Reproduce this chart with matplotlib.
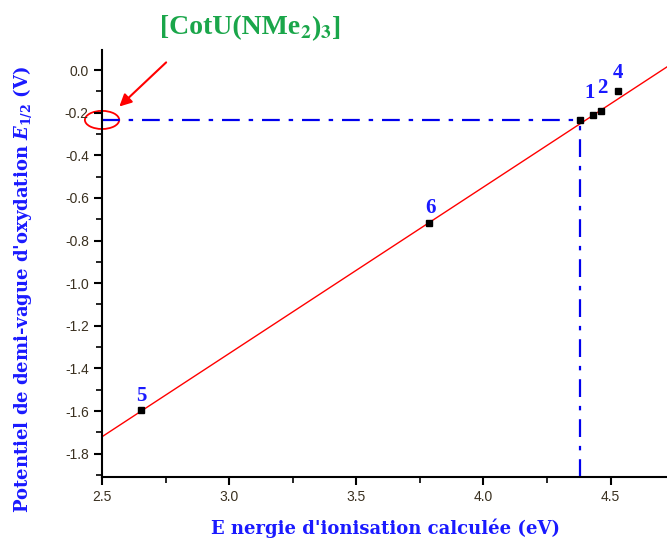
import numpy as np
import matplotlib
matplotlib.use('Agg')
import matplotlib.pyplot as plt
from matplotlib.patches import Ellipse
from matplotlib.ticker import MultipleLocator, FormatStrFormatter

plt.rcParams['mathtext.fontset'] = 'custom'
plt.rcParams['mathtext.rm'] = 'DejaVu Serif:bold'
plt.rcParams['mathtext.it'] = 'DejaVu Serif:italic:bold'
plt.rcParams['mathtext.bf'] = 'DejaVu Serif:bold'

# complexes: label, calculated IE (eV), E1/2 (V)
labels = ['5', '6', '1', '', '2', '4']
ie = [2.654, 3.787, 4.378, 4.433, 4.461, 4.53]
e12 = [-1.594, -0.717, -0.234, -0.211, -0.192, -0.097]
label_pos = [(2.655, -1.53), (3.79, -0.645), (4.417, -0.108), (0, 0), (4.468, -0.084), (4.531, -0.014)]

# linear fit
slope, intercept = 0.781, -3.673
fit_x = np.array([2.5, 4.73])

# reference point [CotU(NMe2)3]
ref_x, ref_y = 4.38, -0.234

f = plt.figure(figsize=(6.67, 5.44), dpi=100)
ax = f.add_axes([0.153, 0.123, 0.85, 0.785])

ax.plot(fit_x, slope*fit_x + intercept, color='red', lw=1)
ax.plot(ie, e12, 's', color='black', ms=5)
for lab, (lx, ly) in zip(labels, label_pos):
    if lab:
        ax.text(lx, ly, lab, color='#1a1aff', fontsize=15, fontweight='bold',
                family='Liberation Serif', ha='center', va='center')

ax.plot([2.5, ref_x], [ref_y, ref_y], color='#0000ee', lw=1.6, ls=(0, (8, 4, 2, 4)))
ax.plot([ref_x, ref_x], [-1.91, ref_y], color='#0000ee', lw=1.6, ls=(0, (8, 4, 2, 4)))

ax.add_patch(Ellipse((2.5, ref_y), 0.135, 0.085, fill=False, ec='red', lw=1.3, clip_on=False))
ax.annotate('', xy=(2.56, -0.18), xytext=(2.76, 0.045),
            arrowprops=dict(arrowstyle='-|>', color='red', lw=1.5, mutation_scale=18),
            annotation_clip=False)
f.text(0.45, 0.949, '[CotU(NMe', color='#1aa64a', fontsize=20, fontweight='bold',
       family='Liberation Serif', ha='right', va='center')
f.text(0.45, 0.949, r'$_\mathbf{2}$)$_\mathbf{3}$]', color='#1aa64a', fontsize=20,
       fontweight='bold', family='Liberation Serif', ha='left', va='center',
       math_fontfamily='stix')

ax.set_xlim(2.5, 4.73)
ax.set_ylim(-1.91, 0.094)
ax.xaxis.set_major_locator(MultipleLocator(0.5))
ax.xaxis.set_minor_locator(MultipleLocator(0.25))
ax.yaxis.set_major_locator(MultipleLocator(0.2))
ax.yaxis.set_minor_locator(MultipleLocator(0.1))
ax.xaxis.set_major_formatter(FormatStrFormatter('%.1f'))
ax.yaxis.set_major_formatter(FormatStrFormatter('%.1f'))
ax.spines['top'].set_visible(False)
ax.spines['right'].set_visible(False)
ax.spines['left'].set_linewidth(1.5)
ax.spines['bottom'].set_linewidth(1.5)
ax.tick_params(which='major', direction='out', length=6, width=1.5, labelsize=10,
               labelcolor='#3a3020')
ax.tick_params(which='minor', direction='out', length=4, width=1.2)
for t in ax.get_xticklabels() + ax.get_yticklabels():
    t.set_family('Liberation Sans')

ax.set_xlabel("E nergie d'ionisation calculée (eV)", color='#1a1aff', fontsize=13,
              fontweight='bold', family='DejaVu Serif')
ax.set_ylabel(r"Potentiel de demi-vague d'oxydation $E_{1/2}$ (V)", color='#1a1aff',
              fontsize=13, fontweight='bold', family='DejaVu Serif')
ax.xaxis.set_label_coords(0.5, -0.098)
ax.yaxis.set_label_coords(-0.12, 0.44)
plt.savefig('out.png', dpi=100)
